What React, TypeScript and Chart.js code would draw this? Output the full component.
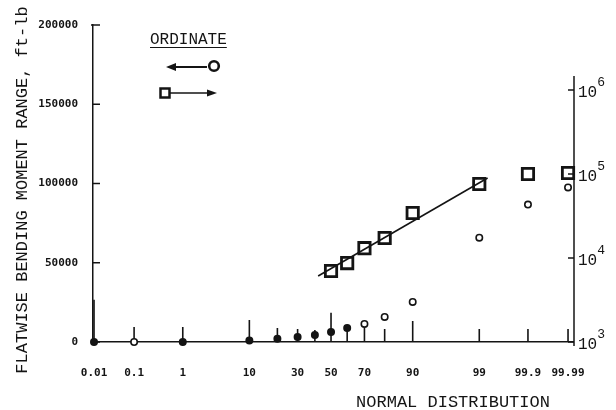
import { useEffect, useRef } from "react";
import { Chart, registerables } from "chart.js";

Chart.register(...registerables);

// ---- data ----
const circlePct = [0.01, 0.1, 1, 10, 20, 30, 40, 50, 60, 70, 80, 90, 99, 99.9, 99.99];
const circleMoment = [0, 0, 0, 1000, 2000, 3200, 4400, 6300, 8900, 11400, 15800, 25300, 65800, 86700, 97500];
const circleFilled = [true, false, true, true, true, true, true, true, true, false, false, false, false, false, false];

const squarePct = [50, 60, 70, 80, 90, 99, 99.9, 99.99];
const squareCycles = [7000, 8700, 13100, 17300, 34300, 76000, 100000, 102800];

const fitPct = [42, 99.3];
const fitCycles = [6100, 89600];

const stemPct = [0.01, 0.1, 1, 10, 20, 30, 40, 50, 60, 70, 80, 90, 99, 99.9, 99.99];
const stemTop = [26600, 9500, 9500, 13900, 8900, 8200, 7600, 18400, 8900, 11400, 8200, 13300, 8200, 8200, 8200];

const xTickPct = [0.01, 0.1, 1, 10, 30, 50, 70, 90, 99, 99.9, 99.99];
const xTickLabels = ["0.01", "0.1", "1", "10", "30", "50", "70", "90", "99", "99.9", "99.99"];
const leftTicks = [0, 50000, 100000, 150000, 200000];
const rightTicks = [1e3, 1e4, 1e5, 1e6];
const rightTickExp = ["3", "4", "5", "6"];

const yTitle = "FLATWISE BENDING MOMENT RANGE, ft-lb";
const xTitle = "NORMAL DISTRIBUTION";
const legendTitle = "ORDINATE";

const INK = "#141414";
const MONO = "'Liberation Mono', 'DejaVu Sans Mono', monospace";
const TICKFONT = "'DejaVu Sans Mono', monospace";

// inverse normal CDF (probability-paper scale mapping), Acklam's approximation
function probit(pct: number): number {
  const p = pct / 100;
  const a = [-3.969683028665376e1, 2.209460984245205e2, -2.759285104469687e2, 1.38357751867269e2, -3.066479806614716e1, 2.506628277459239];
  const b = [-5.447609879822406e1, 1.615858368580409e2, -1.556989798598866e2, 6.680131188771972e1, -1.328068155288572e1];
  const c = [-7.784894002430293e-3, -3.223964580411365e-1, -2.400758277161838, -2.549732539343734, 4.374664141464968, 2.938163982698783];
  const d = [7.784695709041462e-3, 3.224671290700398e-1, 2.445134137142996, 3.754408661907416];
  const pl = 0.02425;
  if (p < pl) {
    const q = Math.sqrt(-2 * Math.log(p));
    return (((((c[0] * q + c[1]) * q + c[2]) * q + c[3]) * q + c[4]) * q + c[5]) / ((((d[0] * q + d[1]) * q + d[2]) * q + d[3]) * q + 1);
  }
  if (p <= 1 - pl) {
    const q = p - 0.5;
    const r = q * q;
    return ((((((a[0] * r + a[1]) * r + a[2]) * r + a[3]) * r + a[4]) * r + a[5]) * q) / (((((b[0] * r + b[1]) * r + b[2]) * r + b[3]) * r + b[4]) * r + 1);
  }
  const q = Math.sqrt(-2 * Math.log(1 - p));
  return -(((((c[0] * q + c[1]) * q + c[2]) * q + c[3]) * q + c[4]) * q + c[5]) / ((((d[0] * q + d[1]) * q + d[2]) * q + d[3]) * q + 1);
}

const decorPlugin = {
  id: "decor",
  afterDraw(chart: any) {
    const ctx = chart.ctx as CanvasRenderingContext2D;
    const ca = chart.chartArea;
    const y = chart.scales.y;
    const y2 = chart.scales.y2;
    ctx.save();
    ctx.strokeStyle = INK;
    ctx.fillStyle = INK;

    // left axis inside ticks
    ctx.lineWidth = 1.5;
    leftTicks.forEach((v) => {
      const py = y.getPixelForValue(v);
      ctx.beginPath();
      ctx.moveTo(ca.left - (v === 200000 ? 2 : 0), py);
      ctx.lineTo(ca.left + 7, py);
      ctx.stroke();
    });

    // right log axis line, ticks and labels
    const rx = ca.right + 1;
    ctx.beginPath();
    ctx.moveTo(rx, y2.getPixelForValue(1.47e6));
    ctx.lineTo(rx, ca.bottom + 4);
    ctx.stroke();
    rightTicks.forEach((v, i) => {
      const py = y2.getPixelForValue(v);
      ctx.beginPath();
      ctx.moveTo(rx - 6, py);
      ctx.lineTo(rx, py);
      ctx.stroke();
      ctx.textAlign = "left";
      ctx.textBaseline = "middle";
      ctx.font = `16px ${MONO}`;
      ctx.fillText("10", rx + 4, py + 3);
      const w = ctx.measureText("10").width;
      ctx.font = `13px ${MONO}`;
      ctx.fillText(rightTickExp[i], rx + 4 + w, py - 7);
    });

    // y title
    ctx.save();
    ctx.translate(27, 190);
    ctx.rotate(-Math.PI / 2);
    ctx.font = `17px ${MONO}`;
    ctx.textAlign = "center";
    ctx.textBaseline = "alphabetic";
    ctx.fillText(yTitle, 0, 0);
    ctx.restore();

    // x title
    ctx.font = `17px ${MONO}`;
    ctx.textAlign = "center";
    ctx.textBaseline = "middle";
    ctx.fillText(xTitle, 453, 402);

    // legend
    ctx.font = `16px ${MONO}`;
    ctx.textAlign = "left";
    ctx.textBaseline = "middle";
    ctx.fillText(legendTitle, 150, 40);
    const lw = ctx.measureText(legendTitle).width;
    ctx.lineWidth = 1;
    ctx.beginPath();
    ctx.moveTo(150, 47.5);
    ctx.lineTo(150 + lw, 47.5);
    ctx.stroke();

    // left arrow + circle
    ctx.lineWidth = 2;
    ctx.beginPath();
    ctx.moveTo(172, 67);
    ctx.lineTo(207, 67);
    ctx.stroke();
    ctx.beginPath();
    ctx.moveTo(166, 67);
    ctx.lineTo(176, 63);
    ctx.lineTo(176, 71);
    ctx.closePath();
    ctx.fill();
    ctx.lineWidth = 2.6;
    ctx.beginPath();
    ctx.arc(214, 66, 4.8, 0, Math.PI * 2);
    ctx.stroke();

    // square + right arrow
    ctx.lineWidth = 2.5;
    ctx.strokeRect(160.5, 88.5, 9, 9);
    ctx.lineWidth = 1.5;
    ctx.beginPath();
    ctx.moveTo(170, 93);
    ctx.lineTo(210, 93);
    ctx.stroke();
    ctx.beginPath();
    ctx.moveTo(217, 93);
    ctx.lineTo(207, 89.5);
    ctx.lineTo(207, 96.5);
    ctx.closePath();
    ctx.fill();

    ctx.restore();
  },
};

export default function App() {
  const canvasRef = useRef<HTMLCanvasElement | null>(null);

  useEffect(() => {
    if (!canvasRef.current) return;

    const circleData = circlePct.map((p, i) => ({ x: probit(p), y: circleMoment[i] }));
    const squareData = squarePct.map((p, i) => ({ x: probit(p), y: squareCycles[i] }));
    const fitData = fitPct.map((p, i) => ({ x: probit(p), y: fitCycles[i] }));
    const stemData: any[] = [];
    stemPct.forEach((p, i) => {
      const z = probit(p);
      stemData.push({ x: z, y: 0 }, { x: z, y: stemTop[i] }, { x: z, y: null });
    });

    const chart = new Chart(canvasRef.current, {
      type: "scatter",
      data: {
        datasets: [
          {
            label: "Moment range",
            data: circleData,
            yAxisID: "y",
            pointRadius: 3.2,
            pointBorderWidth: 1.6,
            pointBorderColor: INK,
            pointBackgroundColor: circleFilled.map((f) => (f ? INK : "#ffffff")),
            clip: false,
          } as any,
          {
            label: "Cycles",
            data: squareData,
            yAxisID: "y2",
            pointStyle: "rect",
            pointRadius: 8,
            pointBorderWidth: 2.8,
            pointBorderColor: INK,
            pointBackgroundColor: "rgba(0,0,0,0)",
            clip: false,
          } as any,
          {
            label: "Fit",
            data: fitData,
            yAxisID: "y2",
            showLine: true,
            borderColor: INK,
            borderWidth: 1.6,
            pointRadius: 0,
          } as any,
          {
            label: "Stems",
            data: stemData,
            yAxisID: "y",
            showLine: true,
            spanGaps: false,
            borderColor: INK,
            borderWidth: 1.6,
            pointRadius: 0,
            clip: false,
          } as any,
        ],
      },
      options: {
        animation: false,
        responsive: true,
        maintainAspectRatio: false,
        layout: { padding: { top: 25, left: 0, right: 0, bottom: 0 } },
        plugins: { legend: { display: false }, tooltip: { enabled: false }, title: { display: false } },
        scales: {
          x: {
            type: "linear",
            position: "bottom",
            min: -3.735,
            max: 3.797,
            bounds: "data",
            grid: { display: false },
            border: { display: true, color: INK, width: 1.5 },
            ticks: {
              autoSkip: false,
              maxRotation: 0,
              padding: 17,
              color: INK,
              font: { family: TICKFONT, size: 11, weight: "bold" },
              callback: (_v: any, i: number) => xTickLabels[i],
            },
            afterBuildTicks: (scale: any) => {
              scale.ticks = xTickPct.map((p) => ({ value: probit(p) }));
            },
            afterFit: (scale: any) => {
              scale.height = 68;
            },
          },
          y: {
            type: "linear",
            position: "left",
            min: 0,
            max: 200000,
            grid: { display: false },
            border: { display: true, color: INK, width: 1.5 },
            ticks: {
              padding: 7,
              color: INK,
              font: { family: TICKFONT, size: 11, weight: "bold" },
              callback: (v: any) => String(v),
            },
            afterBuildTicks: (scale: any) => {
              scale.ticks = leftTicks.map((v) => ({ value: v }));
            },
            afterFit: (scale: any) => {
              scale.width = 93;
            },
          },
          y2: {
            type: "logarithmic",
            position: "right",
            min: 1000,
            max: 5.94e6,
            grid: { display: false },
            border: { display: false },
            ticks: { display: false },
            afterFit: (scale: any) => {
              scale.width = 43;
            },
          },
        } as any,
      },
      plugins: [decorPlugin],
    });

    return () => chart.destroy();
  }, []);

  return (
    <div style={{ position: "fixed", left: 0, top: 0, width: 616, height: 410, background: "#ffffff" }}>
      <canvas ref={canvasRef} />
    </div>
  );
}
